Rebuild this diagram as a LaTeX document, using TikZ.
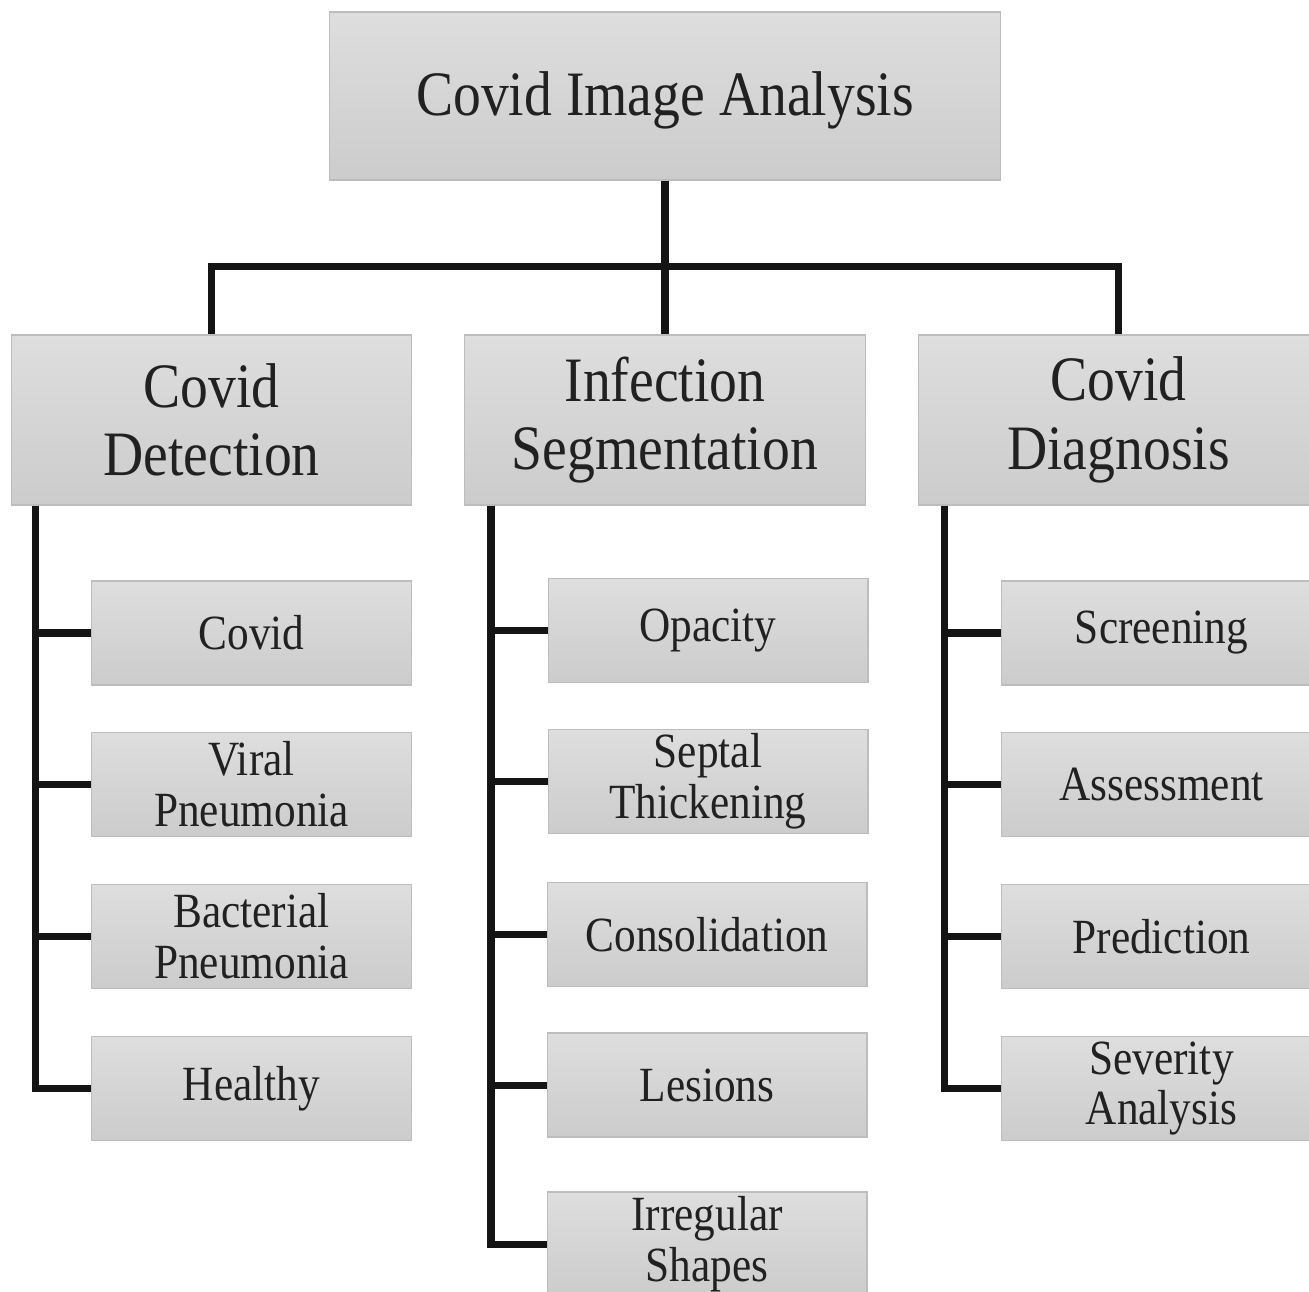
\documentclass[tikz,border=0pt]{standalone}
\usepackage{fontspec}
\setmainfont{Liberation Serif}[FakeStretch=0.88]
\usepackage{tikz}
\usetikzlibrary{positioning}
\definecolor{boxtop}{gray}{0.87}
\definecolor{boxbottom}{gray}{0.80}
\definecolor{boxline}{gray}{0.74}
\definecolor{mytext}{gray}{0.13}

\begin{document}
\begin{tikzpicture}[x=0.02cm, y=-0.02cm,
  box/.style={draw=boxline, line width=0.6pt, top color=boxtop, bottom color=boxbottom, text=mytext, align=center, inner sep=0pt},
  rootbox/.style={box, minimum width=13.44cm, minimum height=3.36cm, font=\fontsize{36}{40}\selectfont, text depth=0.08cm},
  groupbox/.style={box, minimum width=8.02cm, minimum height=3.4cm, font=\fontsize{36}{39}\selectfont},
  leafbox/.style={box, minimum width=6.4cm, minimum height=2.08cm, font=\fontsize{28}{29}\selectfont},
  conn/.style={line width=4pt, black!92}]
  \clip (0,0) rectangle (1309,1292);
  \useasboundingbox (0,0) rectangle (1309,1292);

  % Root
  \node (root) at (665,96) [rootbox] {Covid Image Analysis};

  % Groups
  \node (det) at (211.5,420) [groupbox] {Covid\\Detection};
  \node (seg) at (665,420) [groupbox] {Infection\\Segmentation};
  \node (diag) at (1118.5,420) [groupbox] {Covid\\Diagnosis};

  % Detection leaves
  \node (dcovid) at (251.5,633) [leafbox] {Covid};
  \node (dviral) at (251.5,784.5) [leafbox] {Viral\\Pneumonia};
  \node (dbact) at (251.5,936.5) [leafbox] {Bacterial\\Pneumonia};
  \node (dhealthy) at (251.5,1088.5) [leafbox] {Healthy};

  % Segmentation leaves
  \node (sopac) at (708,630.5) [leafbox] {Opacity};
  \node (ssept) at (708,781.5) [leafbox] {Septal\\Thickening};
  \node (scons) at (707,934.5) [leafbox] {Consolidation};
  \node (sles) at (707,1085) [leafbox] {Lesions};
  \node (sirr) at (707,1244) [leafbox] {Irregular\\Shapes};

  % Diagnosis leaves
  \node (gscreen) at (1161.5,633) [leafbox] {Screening};
  \node (gassess) at (1161.5,784.5) [leafbox] {Assessment};
  \node (gpred) at (1161.5,936.5) [leafbox] {Prediction};
  \node (gsev) at (1161.5,1088.5) [leafbox] {Severity\\Analysis};

  % Root-to-group lines
  \draw[conn] (root.south) -- (seg.north);
  \draw[conn] (root.south) ++(0,86) -| (det.north);
  \draw[conn] (root.south) ++(0,86) -| (diag.north);

  % Detection spine
  \draw[conn] ([xshift=0.5cm]det.south west) |- (dhealthy.west);
  \foreach \leaf in {dcovid, dviral, dbact}
    \draw[conn] ([xshift=0.5cm]det.south west) |- (\leaf.west);

  % Segmentation spine
  \draw[conn] ([xshift=0.54cm]seg.south west) |- (sirr.west);
  \foreach \leaf in {sopac, ssept, scons, sles}
    \draw[conn] ([xshift=0.54cm]seg.south west) |- (\leaf.west);

  % Diagnosis spine
  \draw[conn] ([xshift=0.54cm]diag.south west) |- (gsev.west);
  \foreach \leaf in {gscreen, gassess, gpred}
    \draw[conn] ([xshift=0.54cm]diag.south west) |- (\leaf.west);
\end{tikzpicture}
\end{document}
